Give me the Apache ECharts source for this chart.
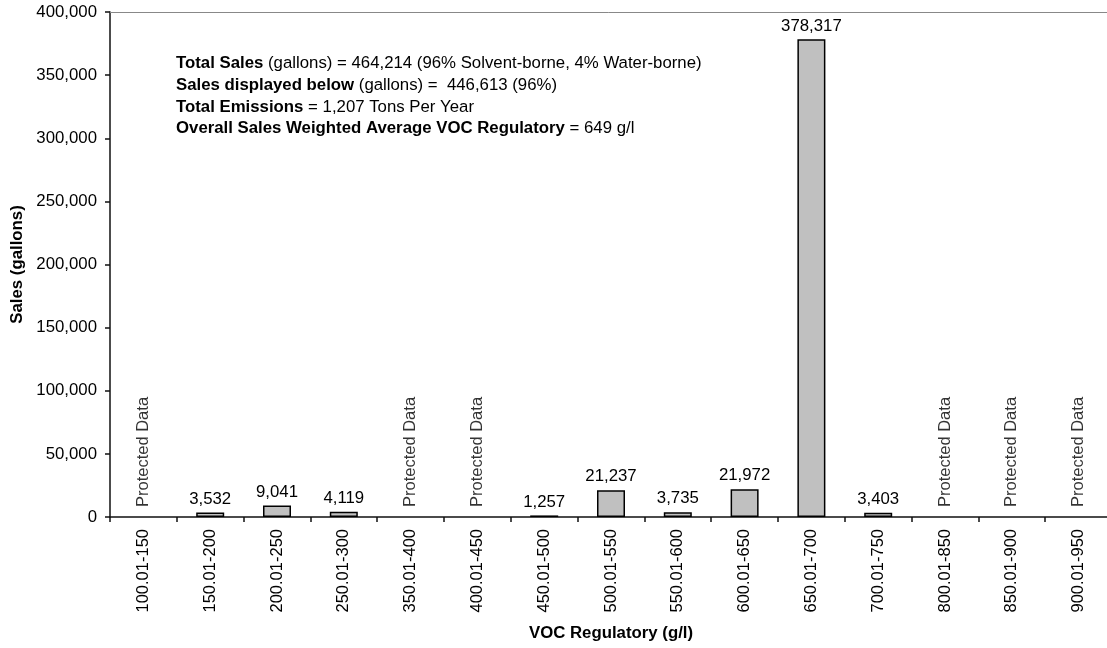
<!DOCTYPE html>
<html>
<head>
<meta charset="utf-8">
<script src="https://cdn.jsdelivr.net/npm/echarts@6/dist/echarts.min.js"></script>
<style>html,body{margin:0;padding:0;background:#fff}#c{width:1107px;height:648px}</style>
</head>
<body>
<div id="c"></div>
<script>
const categories = ['100.01-150','150.01-200','200.01-250','250.01-300','350.01-400','400.01-450','450.01-500','500.01-550','550.01-600','600.01-650','650.01-700','700.01-750','800.01-850','850.01-900','900.01-950'];
// null = protected data
const sales = [null, 3532, 9041, 4119, null, null, 1257, 21237, 3735, 21972, 378317, 3403, null, null, null];
const protectedLabel = 'Protected Data';
const yTicks = {min: 0, max: 400000, interval: 50000};
const notes = [
  ['Total Sales', ' (gallons) = 464,214 (96% Solvent-borne, 4% Water-borne)'],
  ['Sales displayed below', ' (gallons) =  446,613 (96%)'],
  ['Total Emissions', ' = 1,207 Tons Per Year'],
  ['Overall Sales Weighted Average VOC Regulatory', ' = 649 g/l']
];

const FONT = '"Liberation Sans", Arial, sans-serif';
const FS = 16.8;   // horizontal text
const FSV = 16.5;  // vertical text
const chart = echarts.init(document.getElementById('c'));
const protectedData = sales.map(v => v === null ? 0 : null);

chart.setOption({
  animation: false,
  backgroundColor: '#fff',
  textStyle: {fontFamily: FONT},
  grid: {left: 110, top: 12, width: 1002, height: 505, show: false,
    containLabel: false, outerBoundsMode: 'none'},
  xAxis: [{
    type: 'category',
    data: categories,
    boundaryGap: true,
    name: 'VOC Regulatory (g/l)',
    nameLocation: 'middle',
    nameGap: 108,
    nameTextStyle: {fontFamily: FONT, fontSize: FS, fontWeight: 'bold', color: '#000'},
    axisLine: {lineStyle: {color: '#111', width: 1.5}},
    axisTick: {show: true, length: 5, lineStyle: {color: '#111', width: 1.5}, alignWithLabel: false},
    axisLabel: {rotate: 90, margin: 12, fontFamily: FONT, fontSize: FSV, color: '#000', interval: 0},
    splitLine: {show: false}
  }, {
    type: 'category',
    data: categories,
    position: 'top',
    axisLine: {show: true, lineStyle: {color: '#888', width: 1}},
    axisTick: {show: false},
    axisLabel: {show: false},
    splitLine: {show: false}
  }],
  yAxis: {
    type: 'value',
    min: yTicks.min, max: yTicks.max, interval: yTicks.interval,
    name: 'Sales (gallons)',
    nameLocation: 'middle',
    nameGap: 82,
    nameTextStyle: {fontFamily: FONT, fontSize: FS, fontWeight: 'bold', color: '#000'},
    axisLine: {show: true, lineStyle: {color: '#111', width: 1.5}},
    axisTick: {show: true, length: 5, lineStyle: {color: '#111', width: 1.5}},
    axisLabel: {margin: 13, fontFamily: FONT, fontSize: FS, color: '#000',
      formatter: v => v.toLocaleString('en-US')},
    splitLine: {show: false}
  },
  series: [
    {
      type: 'bar',
      data: sales,
      barWidth: 28,
      itemStyle: {color: '#c0c0c0', borderColor: '#000', borderWidth: 1.5},
      label: {show: true, position: 'top', distance: 5, fontFamily: FONT, fontSize: FS, color: '#000',
        formatter: p => p.value == null ? '' : Number(p.value).toLocaleString('en-US')}
    },
    {
      type: 'scatter',
      data: protectedData,
      symbolSize: 0,
      silent: true,
      label: {show: true, position: 'top', rotate: 90, align: 'left', verticalAlign: 'middle', distance: 10,
        fontFamily: FONT, fontSize: FSV, color: '#000', formatter: () => protectedLabel}
    }
  ],
  graphic: [{
    type: 'text',
    left: 176,
    top: 55,
    style: {
      text: notes.map(n => '{b|' + n[0] + '}{r|' + n[1] + '}').join('\n'),
      rich: {
        b: {fontFamily: FONT, fontSize: FS, fontWeight: 'bold', color: '#000', lineHeight: 21.7},
        r: {fontFamily: FONT, fontSize: FS, color: '#000', lineHeight: 21.7}
      }
    }
  }]
});
</script>
</body>
</html>
